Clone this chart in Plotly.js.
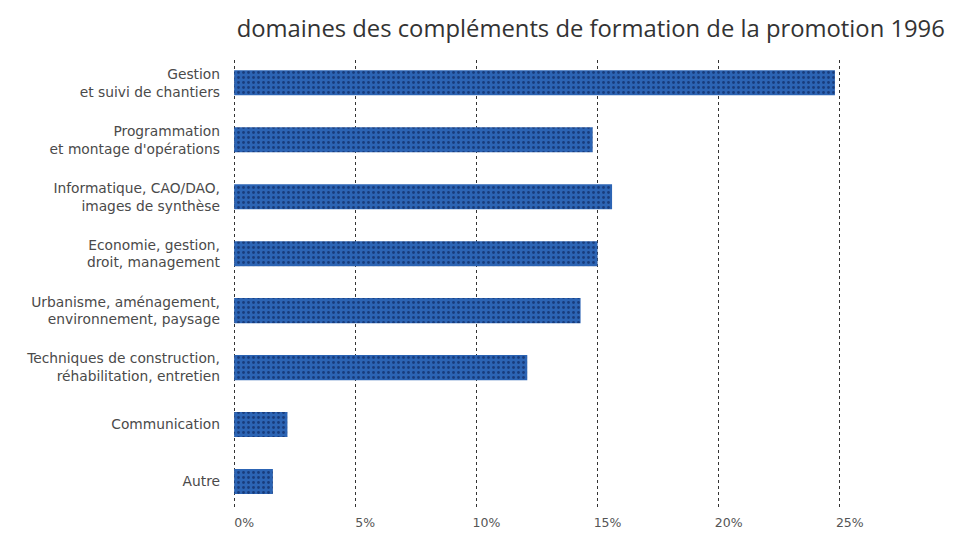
<!DOCTYPE html>
<html>
<head>
<meta charset="utf-8">
<script src="https://cdn.plot.ly/plotly-3.0.1.min.js"></script>
<style>html,body{margin:0;padding:0;background:#fff;}#chart{width:966px;height:534px;}</style>
</head>
<body>
<div id="chart"></div>
<script>
const categories = [
  "Gestion<br>et suivi de chantiers",
  "Programmation<br>et montage d'opérations",
  "Informatique, CAO/DAO,<br>images de synthèse",
  "Economie, gestion,<br>droit, management",
  "Urbanisme, aménagement,<br>environnement, paysage",
  "Techniques de construction,<br>réhabilitation, entretien",
  "Communication",
  "Autre"
];
const values = [24.8, 14.8, 15.6, 15.0, 14.3, 12.1, 2.2, 1.6];
const tickValues = [0, 5, 10, 15, 20, 25];
const tickLabels = ["0%", "5%", "10%", "15%", "20%", "25%"];
const titleText = "domaines des compléments de formation de la promotion 1996";

const trace = {
  type: 'bar',
  orientation: 'h',
  x: values,
  y: categories,
  marker: {
    color: '#2c64b4',
    line: {width: 0},
    pattern: {shape: '.', fgcolor: '#183c7c', bgcolor: '#2c64b4', size: 5, solidity: 0.25}
  },
  hoverinfo: 'none'
};

const layout = {
  width: 966, height: 534,
  margin: {l: 231, r: 102, t: 60, b: 24},
  paper_bgcolor: '#fff', plot_bgcolor: '#fff',
  showlegend: false,
  bargap: 0.56,
  title: {
    text: titleText,
    font: {family: 'Open Sans, Noto Sans, sans-serif', size: 23.8, color: '#333'},
    xref: 'container', x: 0.245, xanchor: 'left',
    yref: 'container', y: 0.947, yanchor: 'middle'
  },
  xaxis: {
    range: [-0.13, 26],
    tickvals: tickValues, ticktext: tickLabels,
    showgrid: true, gridcolor: '#333', griddash: 'dot', gridwidth: 1,
    zeroline: false, showline: false, ticks: '',
    tickfont: {family: 'DejaVu Sans, sans-serif', size: 12.5, color: '#555'},
    ticklabelshift: 10,
    ticklabelstandoff: 3, fixedrange: true
  },
  yaxis: {
    type: 'category',
    range: [7.5, -0.4],
    showgrid: false, zeroline: false, showline: false, ticks: '',
    tickfont: {family: 'DejaVu Sans, sans-serif', size: 13.8, color: '#4a4a4a'},
    ticklabelstandoff: 10, fixedrange: true
  }
};

Plotly.newPlot('chart', [trace], layout, {displayModeBar: false, staticPlot: true});
</script>
</body>
</html>
